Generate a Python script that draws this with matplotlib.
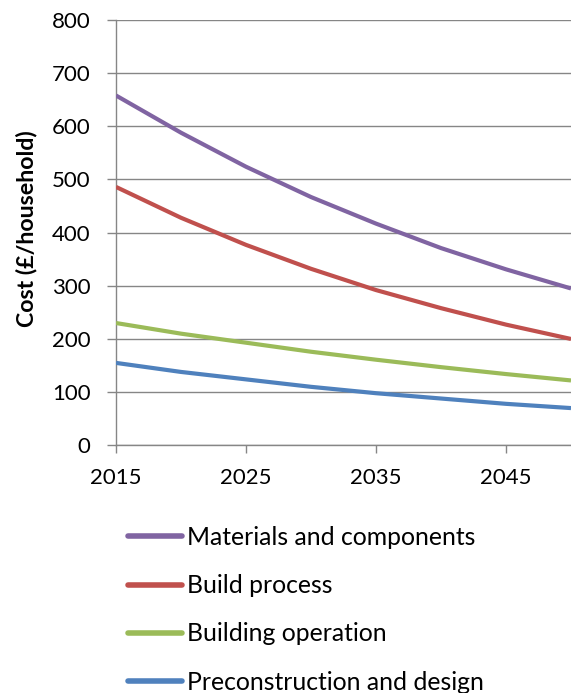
import matplotlib
matplotlib.use("Agg")
import matplotlib.pyplot as plt

years = [2015, 2020, 2025, 2030, 2035, 2040, 2045, 2050]
materials = [658, 588, 524, 467, 417, 371, 331, 295]
build = [486, 428, 377, 332, 292, 258, 227, 200]
operation = [230, 210, 193, 176, 161, 147, 134, 122]
precon = [155, 138, 124, 110, 98, 88, 78, 70]

series_names = ["Materials and components", "Build process",
                "Building operation", "Preconstruction and design"]
series_colors = ["#8064A2", "#C0504D", "#9BBB59", "#4F81BD"]
x_ticks = [2015, 2025, 2035, 2045]
y_ticks = [0, 100, 200, 300, 400, 500, 600, 700, 800]

plt.rcParams['font.family'] = ['Lato', 'DejaVu Sans']
GRAY = "#868686"

fig = plt.figure(figsize=(5.71, 6.93), dpi=100)
ax = fig.add_axes([116/571, 1-445.3/693, 1-116/571, (445.3-20)/693])

for vals, name, col in zip([materials, build, operation, precon], series_names, series_colors):
    ax.plot(years, vals, color=col, lw=3.0, label=name, solid_capstyle='butt', zorder=3)

ax.set_xlim(2015, 2050)
ax.set_ylim(0, 800)
ax.set_xticks(x_ticks)
ax.set_yticks(y_ticks)
ax.grid(axis='y', color=GRAY, lw=1.0)
ax.set_axisbelow(True)
for s in ['top', 'right']:
    ax.spines[s].set_visible(False)
for s in ['left', 'bottom']:
    ax.spines[s].set_color(GRAY)
    ax.spines[s].set_linewidth(1.0)
ax.tick_params(axis='y', direction='out', length=6.3, width=1.0, color=GRAY, pad=12, labelsize=16)
ax.tick_params(axis='x', direction='out', length=5.5, width=1.0, color=GRAY, pad=11, labelsize=16)
ax.set_ylabel("Cost (£/household)", fontsize=16.7, fontweight='bold')
ax.yaxis.set_label_coords(-79/455, 0.51)

leg = fig.legend(loc='upper left', bbox_to_anchor=(128/571, 1-526/693), frameon=False,
                 fontsize=17.8, handlelength=2.2, handletextpad=0.2, labelspacing=1.02,
                 borderpad=0, borderaxespad=0)
for h in leg.get_lines():
    h.set_linewidth(4)
    h.set_solid_capstyle('round')

fig.savefig("out.png", dpi=100)
